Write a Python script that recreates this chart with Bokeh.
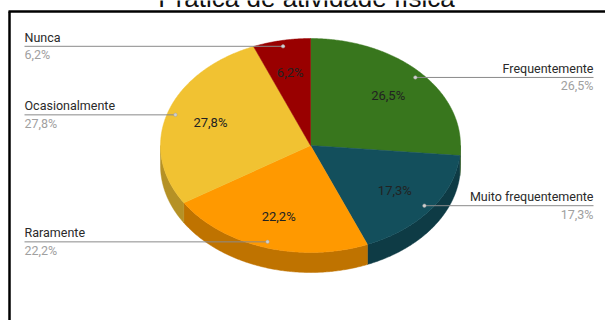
import math
from bokeh.plotting import figure
from bokeh.models import Range1d, ColumnDataSource
from bokeh.core.properties import value
from bokeh.embed import file_html
from bokeh.resources import INLINE

# ---- data ----
title = "Prática de atividade física"
categories = ["Frequentemente", "Muito frequentemente", "Raramente", "Ocasionalmente", "Nunca"]
values = [26.5, 17.3, 22.2, 27.8, 6.2]
colors = ["#38761d", "#134f5c", "#ff9900", "#f1c232", "#990000"]
side_colors = ["#2a5916", "#0e3b45", "#bf7300", "#b59125", "#730000"]

# ---- layout (page pixels) ----
W, H = 605, 320
cx, cy, rx, ry, depth = 310.0, 145.0, 150.0, 107.0, 20.0
label_font = value("Roboto")

p = figure(width=W, height=H, x_range=Range1d(0, W), y_range=Range1d(H, 0),
           output_backend="svg", toolbar_location=None, min_border=0)
p.axis.visible = False
p.grid.visible = False
p.outline_line_color = None
p.background_fill_color = "white"
p.border_fill_color = "white"


def pt(theta, f=1.0, dy=0.0):
    r = math.radians(theta)
    return cx + rx * f * math.sin(r), cy - ry * f * math.cos(r) + dy


total = sum(values)
starts, ends = [], []
acc = 0.0
for v in values:
    starts.append(acc / total * 360.0)
    acc += v
    ends.append(acc / total * 360.0)


def arc(a, b, dy=0.0):
    n = max(2, int(abs(b - a) / 0.5) + 1)
    return [pt(a + (b - a) * i / (n - 1), 1.0, dy) for i in range(n)]

# side faces (front half: 90..270)
sx, sy, sc = [], [], []
for a, b, c in zip(starts, ends, side_colors):
    lo, hi = max(a, 90.0), min(b, 270.0)
    if hi <= lo:
        continue
    pts = arc(lo, hi) + arc(hi, lo, depth)
    sx.append([q[0] for q in pts])
    sy.append([q[1] for q in pts])
    sc.append(c)
p.patches(xs=sx, ys=sy, fill_color=sc, line_color=sc, line_width=0.5)

# top faces
tx, ty = [], []
for a, b in zip(starts, ends):
    pts = [(cx, cy)] + arc(a, b)
    tx.append([q[0] for q in pts])
    ty.append([q[1] for q in pts])
p.patches(xs=tx, ys=ty, fill_color=colors, line_color=colors, line_width=0.5)

# inner percentage labels
pct = [f"{v:.1f}".replace(".", ",") + "%" for v in values]
mids = [(a + b) / 2 for a, b in zip(starts, ends)]
ix = [pt(m, 0.7)[0] for m in mids]
iy = [pt(m, 0.7)[1] for m in mids]
p.text(x=ix, y=iy, text=pct, text_align="center", text_baseline="middle",
       text_font=label_font, text_font_size="13px", text_color="#222222")

# leader lines and outside labels
lx0, ly0, lx1, ly1 = [], [], [], []
nx, ny, na, dxs, dys = [], [], [], [], []
for m in mids:
    dx, dy = pt(m, 0.945)
    right = m < 180
    ex = 593 if right else 24
    lx0.append(dx); ly0.append(dy); lx1.append(ex); ly1.append(dy)
    dxs.append(dx); dys.append(dy)
    nx.append(ex); ny.append(dy); na.append("right" if right else "left")
src = ColumnDataSource(dict(x=nx, y=ny, align=na, name=categories, pct=pct))
p.segment(x0=lx0, y0=ly0, x1=lx1, y1=ly1, line_color="#8a8a8a", line_width=1)
p.scatter(x=dxs, y=dys, size=3.5, fill_color="#d0d0d0", line_color="#a0a0a0", line_width=0.5)
p.text(x="x", y="y", text="name", text_align="align", text_baseline="middle",
       y_offset=-9, source=src, text_font=label_font, text_font_size="12.5px", text_color="#2a2a2a")
p.text(x="x", y="y", text="pct", text_align="align", text_baseline="middle",
       y_offset=8.5, source=src, text_font=label_font, text_font_size="12.5px", text_color="#a0a0a0")

# frame lines
p.segment(x0=[8, 9], y0=[11, 11], x1=[W, 9], y1=[11, H], line_color="black", line_width=2.5)

# title (partly above the frame, as in the source image)
p.text(x=[306], y=[-3], text=[title], text_align="center", text_baseline="middle",
       text_font=value("Liberation Sans"), text_font_size="26px", text_color="#111111")

open("out.html", "w").write(file_html(p, INLINE))
